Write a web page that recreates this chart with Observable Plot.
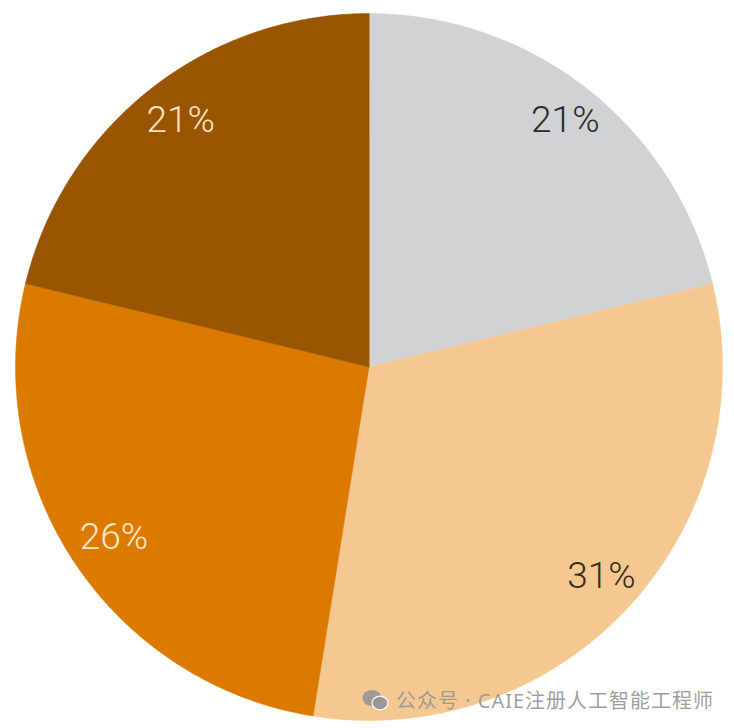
<!DOCTYPE html>
<html>
<head>
<meta charset="utf-8">
<script src="https://cdn.jsdelivr.net/npm/d3@7"></script>
<script src="https://cdn.jsdelivr.net/npm/@observablehq/plot@0.6"></script>
<style>
  html, body { margin: 0; padding: 0; background: #fff; }
  #wrap { position: relative; width: 734px; height: 728px; }
  #wm { position: absolute; left: 362px; top: 685px; display: flex; align-items: center;
        font-family: "Noto Sans", "Noto Sans CJK SC", sans-serif; font-size: 20px; letter-spacing: 1px; color: rgba(150,150,150,0.92); white-space: nowrap; }
  #wm svg { margin-right: 7px; }
</style>
</head>
<body>
<div id="wrap"><div id="chart"></div>
<div id="wm"><svg width="27" height="22" viewBox="0 0 27 22">
  <ellipse cx="10" cy="9" rx="9.5" ry="8" fill="rgba(150,150,150,0.92)"/>
  <ellipse cx="18" cy="14" rx="8" ry="6.8" fill="rgba(150,150,150,0.95)" stroke="#fff" stroke-width="1.2"/>
</svg><span>公众号 · CAIE注册人工智能工程师</span></div>
</div>
<script>
const categories = ["A", "B", "C", "D"];
const values = [21, 31, 26, 21];
const labels = ["21%", "31%", "26%", "21%"];
const colors = ["#d1d2d4", "#f5c891", "#dc7a00", "#995500"];
const labelColors = ["#2b2b2b", "#3b2c1c", "#fde8c4", "#fbe4c0"];

const pie = d3.pie().sort(null).value(d => d.value)(
  categories.map((c, i) => ({key: c, value: values[i], label: labels[i], color: colors[i], labelColor: labelColors[i]}))
);

// slice outlines from pie angles (clockwise from 12 o'clock)
const outline = [];
for (const s of pie) {
  outline.push({key: s.data.key, x: 0, y: 0});
  const n = Math.max(2, Math.ceil((s.endAngle - s.startAngle) / 0.01));
  for (let k = 0; k <= n; k++) {
    const a = s.startAngle + (s.endAngle - s.startAngle) * k / n;
    outline.push({key: s.data.key, x: Math.sin(a), y: Math.cos(a)});
  }
}
const labelPts = pie.map(s => {
  const a = (s.startAngle + s.endAngle) / 2;
  const r = 0.88;
  return {key: s.data.key, label: s.data.label, color: s.data.labelColor, x: r * Math.sin(a), y: r * Math.cos(a)};
});

const chart = Plot.plot({
  width: 734,
  height: 728,
  marginLeft: 15,
  marginRight: 12,
  marginTop: 13,
  marginBottom: 8,
  x: {domain: [-1, 1], axis: null},
  y: {domain: [-1, 1], axis: null},
  color: {domain: categories, range: colors},
  style: {background: "#fff"},
  marks: [
    Plot.line(outline, {x: "x", y: "y", z: "key", fill: "key", stroke: "key", strokeWidth: 0.5, curve: "linear-closed"}),
    Plot.text(labelPts, {x: "x", y: "y", text: "label", fill: d => d.color, fontSize: 37, fontWeight: 300, dx: 4, dy: -2,
      fontFamily: "Roboto, 'Open Sans', sans-serif"})
  ]
});
document.getElementById("chart").appendChild(chart);
</script>
</body>
</html>
